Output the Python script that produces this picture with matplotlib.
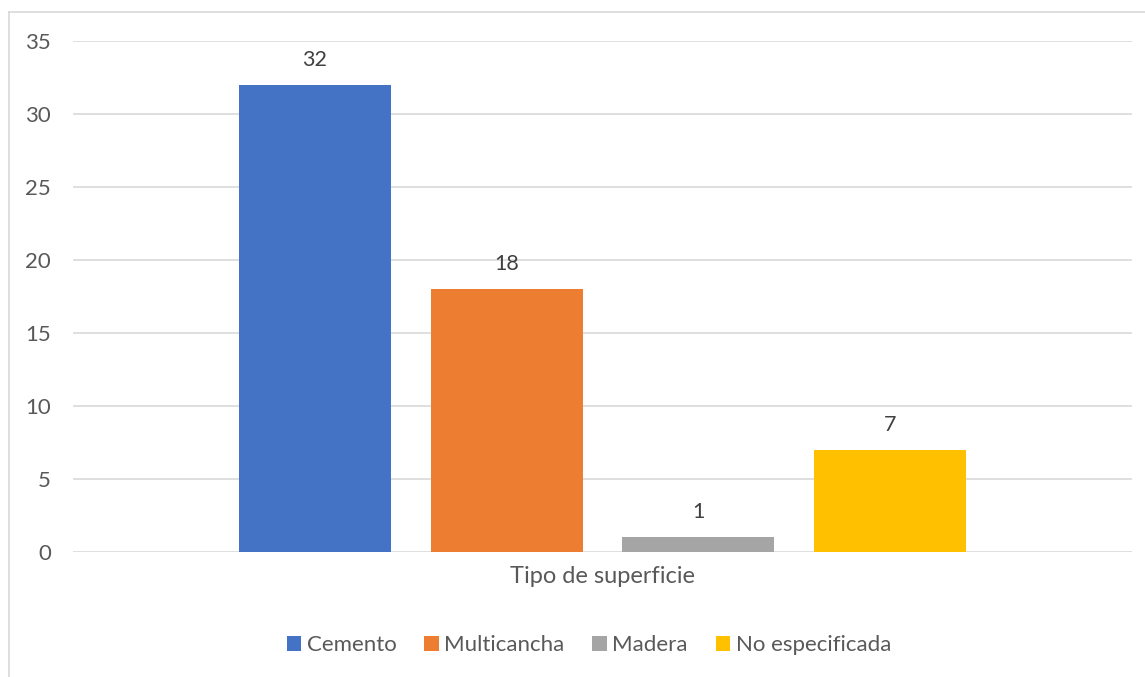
import matplotlib.pyplot as plt
from matplotlib.lines import Line2D

category = 'Tipo de superficie'
series = ['Cemento', 'Multicancha', 'Madera', 'No especificada']
values = [32, 18, 1, 7]
colors = ['#4472C4', '#ED7D31', '#A5A5A5', '#FFC000']
yticks = [0, 5, 10, 15, 20, 25, 30, 35]

plt.rcParams['font.family'] = ['Lato', 'DejaVu Sans']
text_color = '#595959'

fig = plt.figure(figsize=(11.45, 6.77), dpi=100)
ax = fig.add_axes([73 / 1145, 125 / 677, (1132 - 73) / 1145, (552 - 41) / 677])

xs = list(range(len(series)))
bars = ax.bar(xs, values, width=152 / 192, color=colors, label=series, zorder=3)
for x, v in zip(xs, values):
    ax.annotate(str(v), (x, v), xytext=(0, 18), textcoords='offset points',
                ha='center', va='center', fontsize=15.5, color='#404040')

ax.set_xlim(-1.258, 4.258)
ax.set_ylim(0, 35)
ax.set_yticks(yticks)
ax.set_xticks([1.5])
ax.set_xticklabels([category])
ax.tick_params(axis='y', length=0, pad=16, labelsize=16, labelcolor=text_color)
ax.tick_params(axis='x', length=0, pad=10, labelsize=17, labelcolor=text_color)
ax.grid(axis='y', color='#d9d9d9', linewidth=1.2, zorder=0)
for s in ax.spines.values():
    s.set_visible(False)

leg = fig.legend(bars, series, loc='center', bbox_to_anchor=(589 / 1145, 1 - 645 / 677),
                 ncol=4, frameon=False, fontsize=16, handlelength=0.65, handleheight=0.65,
                 handletextpad=0.25, columnspacing=1.25)
for t in leg.get_texts():
    t.set_color(text_color)

# chart border (only top and left visible in reference)
fig.add_artist(Line2D([8.5 / 1145, 1], [1 - 11.5 / 677, 1 - 11.5 / 677], color='#d9d9d9', linewidth=1.2))
fig.add_artist(Line2D([8.5 / 1145, 8.5 / 1145], [0, 1 - 11.5 / 677], color='#d9d9d9', linewidth=1.2))

fig.savefig('out.png', dpi=100)
